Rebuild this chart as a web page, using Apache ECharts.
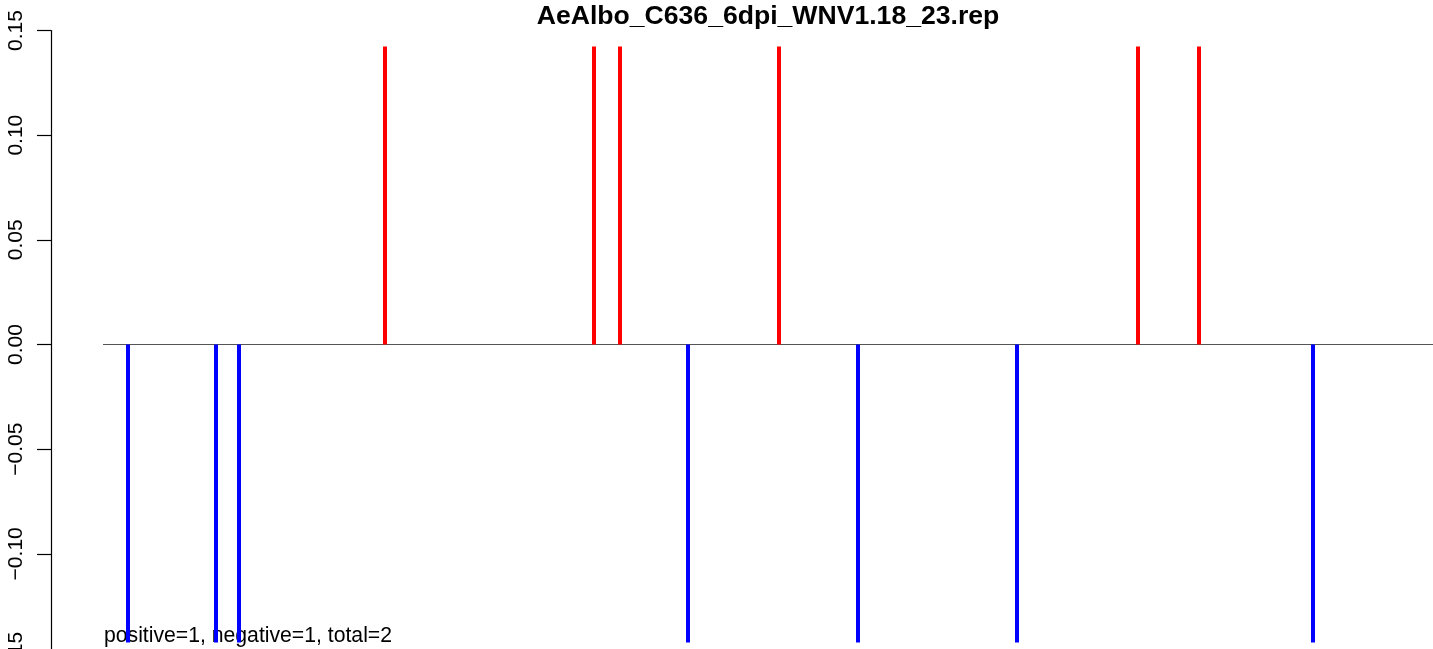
<!DOCTYPE html>
<html>
<head>
<meta charset="utf-8">
<script src="https://cdn.jsdelivr.net/npm/echarts@6/dist/echarts.min.js"></script>
<style>html,body{margin:0;padding:0;background:#fff;overflow:hidden;width:1433px;height:649px;}#chartbox{width:1500px;height:680px;}</style>
</head>
<body>
<div id="chartbox"></div>
<script>
var titleText = 'AeAlbo_C636_6dpi_WNV1.18_23.rep';
var noteText = 'positive=1, negative=1, total=2';
var posX = [334, 543, 569, 728, 1087, 1148];
var posVal = [0.1423, 0.1423, 0.1423, 0.1423, 0.1423, 0.1423];
var negX = [77, 165, 188, 637, 807, 966, 1262];
var negVal = [-0.1423, -0.1423, -0.1423, -0.1423, -0.1423, -0.1423, -0.1423];
var zeroLineX = [52, 1434];
var yTicks = [-0.15, -0.10, -0.05, 0.00, 0.05, 0.10, 0.15];

var bars = [];
posX.forEach(function (x, i) { bars.push([x, posVal[i], 'pos']); });
negX.forEach(function (x, i) { bars.push([x, negVal[i], 'neg']); });

var chart = echarts.init(document.getElementById('chartbox'), null, {renderer: 'canvas', width: 1500, height: 680});
var FONT = '"Liberation Sans", Arial, Helvetica, sans-serif';
chart.setOption({
  animation: false,
  backgroundColor: '#ffffff',
  title: [
    {text: titleText, left: 768, top: 3, padding: 0, textAlign: 'center', z: 1,
     textStyle: {fontFamily: FONT, fontWeight: 'bold', fontSize: 26.6, color: '#000'}},
    {text: noteText, left: 104, top: 626, padding: 0, z: 1,
     textStyle: {fontFamily: FONT, fontWeight: 'normal', fontSize: 21.2, color: '#000'}}
  ],
  grid: {left: 51, top: 30.5, width: 1434, height: 628, containLabel: false, outerBoundsMode: 'none'},
  xAxis: {type: 'value', min: 0, max: 1434, show: false},
  yAxis: {
    type: 'value', min: yTicks[0], max: yTicks[yTicks.length - 1], interval: 0.05,
    axisLine: {show: true, lineStyle: {color: '#000', width: 1.2}},
    axisTick: {show: true, length: 14, lineStyle: {color: '#000', width: 1.2}},
    splitLine: {show: false},
    axisLabel: {
      rotate: 90, margin: 24, fontFamily: FONT, fontSize: 21, color: '#000',
      formatter: function (v) {
        if (Math.abs(v) < 1e-9) return '0.00';
        var s = Math.abs(v).toFixed(2);
        return v < 0 ? '\u2212' + s : s;
      }
    }
  },
  series: [
    {
      type: 'line', data: [[zeroLineX[0], 0], [zeroLineX[1], 0]], symbol: 'none',
      lineStyle: {color: '#555555', width: 1.2}, silent: true, z: 2
    },
    {
      type: 'custom', data: bars, z: 3,
      encode: {x: 0, y: 1},
      renderItem: function (params, api) {
        var x = api.value(0), v = api.value(1);
        var p0 = api.coord([x, 0]);
        var p1 = api.coord([x, v]);
        var top = Math.min(p0[1], p1[1]);
        var h = Math.abs(p1[1] - p0[1]);
        return {
          type: 'rect',
          shape: {x: p0[0] - 2, y: top, width: 4, height: h},
          style: {fill: v > 0 ? '#ff0000' : '#0000ff'}
        };
      }
    }
  ]
});
</script>
</body>
</html>
